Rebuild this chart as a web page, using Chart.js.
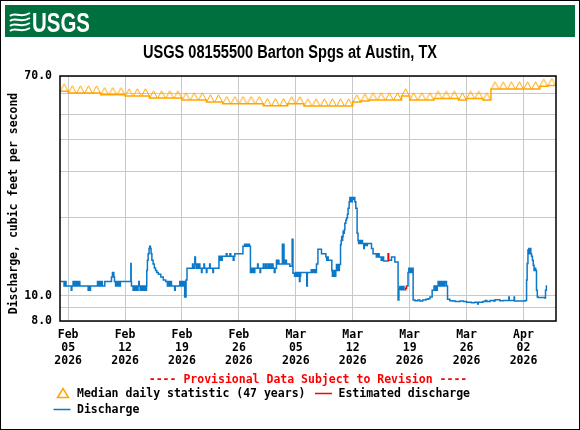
<!DOCTYPE html>
<html>
<head>
<meta charset="utf-8">
<script src="https://cdn.jsdelivr.net/npm/chart.js@4.4.1/dist/chart.umd.min.js"></script>
<style>
  html, body { margin: 0; padding: 0; background: #fff; }
  #wrap { width: 580px; height: 430px; }
</style>
</head>
<body>
<div id="wrap"><canvas id="chart" width="580" height="430"></canvas></div>
<script>
// x axis is in days counted from Feb 04 2026 00:00
var xTickDays  = [1, 8, 15, 22, 29, 36, 43, 50, 57];
var xTickMonth = ['Feb', 'Feb', 'Feb', 'Feb', 'Mar', 'Mar', 'Mar', 'Mar', 'Apr'];
var xTickDate  = ['05', '12', '19', '26', '05', '12', '19', '26', '02'];
var xTickYear  = '2026';
var yTicks     = [8, 9, 10, 20, 30, 40, 50, 60, 70];
var yLabelled  = [8, 10, 70];

// median daily statistic (47 years), one value per day from Feb 04
var medianDaily = [
  61.2, 60.2, 60.2, 60.2, 60.2, 59.3, 59.3, 59.3, 58.7, 58.7,
  58.7, 57.6, 57.6, 57.6, 57.6, 56.6, 56.6, 56.6, 55.6, 55.6,
  54.8, 54.8, 54.8, 54.8, 54.8, 53.8, 53.8, 53.8, 54.7, 54.7,
  53.7, 53.7, 53.7, 53.7, 53.7, 53.7, 55.6, 56.1, 56.6, 56.6,
  56.6, 56.6, 58.7, 56.6, 56.6, 56.6, 57.4, 57.4, 57.4, 56.6,
  57.4, 57.4, 56.6, 62.4, 62.4, 62.4, 62.4, 62.4, 62.4, 63.9,
  64.3
];

// discharge, [day, cfs]
var discharge = [
  [0.1, 11.35], [0.5, 10.9], [0.68, 11.35], [0.74, 10.9], [1.38, 10.5], [1.46, 10.9],
  [1.61, 11.35], [1.73, 10.9], [1.85, 11.35], [1.97, 10.9], [2.09, 11.35], [2.21, 10.9], [2.33, 11.35], [2.44, 10.9],
  [3.46, 10.5], [3.58, 10.9], [3.66, 10.5], [3.75, 10.9],
  [4.61, 11.35], [4.73, 10.9], [4.85, 11.35], [4.97, 10.9], [5.09, 11.35], [5.21, 10.9], [5.51, 11.35],
  [6.33, 11.8], [6.45, 12.3], [6.62, 11.8], [6.7, 11.35],
  [6.83, 10.9], [6.95, 11.35], [7.07, 10.9], [7.19, 11.35], [7.31, 10.9], [7.43, 11.35],
  [8.71, 13.3], [8.75, 11.35], [8.79, 10.9],
  [8.99, 10.5], [9.11, 10.9], [9.23, 10.5], [9.35, 10.9], [9.47, 10.5], [9.6, 10.9], [9.69, 11.35], [9.75, 10.9],
  [9.85, 10.5], [9.97, 10.9], [10.09, 10.5], [10.21, 10.9], [10.33, 10.5], [10.45, 10.9], [10.57, 10.5], [10.64, 10.9],
  [10.67, 12.5], [10.75, 13.7], [10.84, 14.5], [10.95, 15.2], [11.03, 15.5], [11.12, 15.2], [11.2, 14.5],
  [11.3, 13.7], [11.45, 13.25], [11.6, 12.8], [11.75, 12.5], [11.9, 12.3], [12.1, 12.1], [12.4, 11.8],
  [12.7, 11.5], [13.0, 11.35],
  [13.2, 10.9], [13.32, 11.35], [13.44, 10.9], [13.56, 11.35], [13.71, 10.9], [14.1, 10.5], [14.18, 10.9],
  [14.73, 11.35], [14.85, 10.9], [14.97, 11.35], [15.09, 10.9], [15.2, 11.35],
  [15.33, 9.9], [15.5, 11.5], [15.62, 12.76],
  [16.3, 13.25], [16.38, 12.76], [16.58, 14.1], [16.66, 13.25],
  [16.8, 12.76], [16.9, 13.25], [17.0, 12.76], [17.1, 13.25], [17.2, 12.76],
  [17.4, 12.3], [17.47, 12.76], [17.7, 13.25], [17.77, 12.76], [18.0, 12.3], [18.07, 12.76],
  [18.4, 13.25], [18.47, 12.76], [18.8, 12.3], [18.87, 12.76],
  [19.55, 14.2], [19.65, 13.7], [19.75, 14.2], [19.85, 13.7], [19.95, 14.2],
  [20.45, 14.5], [20.55, 14.2], [20.9, 14.5], [21.0, 14.2], [21.3, 13.7], [21.4, 14.2], [21.5, 14.5],
  [22.5, 15.5], [22.7, 15.8], [22.8, 15.5], [22.95, 15.8], [23.05, 15.5], [23.2, 15.8], [23.3, 15.5],
  [23.42, 12.3], [23.5, 12.76], [23.6, 12.3], [23.72, 12.76], [23.84, 12.3], [23.96, 12.76],
  [24.3, 13.25], [24.37, 12.76], [24.6, 12.3], [24.67, 12.76],
  [25.0, 13.25], [25.1, 12.76], [25.3, 13.25], [25.4, 12.76], [25.6, 13.25], [25.7, 12.76],
  [25.85, 13.25], [25.95, 12.76], [26.1, 13.25], [26.2, 12.76], [26.35, 12.3], [26.45, 12.76],
  [26.62, 13.7], [26.72, 13.25], [26.82, 13.7], [26.92, 13.25],
  [27.35, 15.8], [27.4, 13.25], [27.5, 15.8], [27.55, 13.25], [27.7, 13.7], [27.85, 13.25],
  [28.26, 13.0], [28.55, 16.5], [28.65, 12.2],
  [28.85, 11.9], [28.95, 12.3], [29.05, 11.9], [29.15, 12.3], [29.25, 11.9], [29.35, 12.3],
  [29.45, 11.35], [29.52, 11.9], [29.6, 12.3],
  [30.35, 10.9], [30.42, 12.3],
  [30.9, 12.6], [31.0, 12.3], [31.1, 12.6], [31.2, 12.3], [31.3, 12.6], [31.4, 12.3],
  [31.54, 13.25], [31.72, 15.1], [32.16, 14.5], [32.7, 14.1], [32.8, 13.7], [32.9, 14.1], [32.98, 13.7],
  [33.43, 12.5], [33.5, 11.9], [33.58, 12.5], [33.66, 11.9], [33.74, 12.5], [33.82, 11.9], [33.92, 12.5],
  [34.0, 13.2], [34.1, 12.5], [34.2, 13.2], [34.28, 12.5], [34.36, 13.2],
  [34.5, 15.7], [34.58, 16.3], [34.64, 16.9], [34.7, 16.3], [34.76, 16.9], [34.82, 17.7], [34.9, 17.4],
  [34.96, 17.9], [35.03, 19.0], [35.15, 19.5], [35.24, 19.9], [35.35, 20.6], [35.43, 21.7], [35.56, 23.0],
  [35.65, 23.9], [35.72, 23.0], [35.8, 23.9], [35.88, 23.0], [35.96, 23.9], [36.05, 23.5], [36.15, 23.9],
  [36.26, 23.0], [36.38, 21.7], [36.54, 17.4],
  [36.65, 16.3], [36.72, 15.9], [36.79, 16.3], [36.86, 15.9], [36.94, 16.3], [37.0, 15.9], [37.1, 16.3], [37.2, 15.9],
  [37.36, 15.2], [37.42, 15.9], [37.5, 15.6], [37.6, 15.9], [37.7, 15.6], [37.8, 15.9],
  [38.31, 15.2], [38.5, 14.5], [38.9, 14.1], [38.98, 14.5], [39.06, 14.1], [39.14, 14.5], [39.25, 14.1],
  [39.5, 13.7], [39.58, 14.1], [39.66, 13.7], [39.74, 14.1], [39.8, 13.6],
  [40.3, 13.6], [40.32, null], [40.47, 13.7],
  [40.77, 14.1], [41.18, 13.5], [41.58, 9.64], [41.68, 10.6],
  [41.79, 10.85], [41.9, 10.55], [42.0, 10.85], [42.1, 10.55], [42.2, 10.85], [42.3, 10.55], [42.4, 10.55],
  [42.45, null], [42.67, 10.9],
  [42.8, 12.3], [42.9, 12.76], [43.0, 12.3], [43.1, 12.76], [43.2, 12.3], [43.3, 12.76],
  [43.43, 9.64], [43.66, 9.58], [44.0, 9.64], [44.25, 9.55], [44.6, 9.64], [45.0, 9.7], [45.27, 9.75], [45.5, 9.9],
  [45.77, 10.5], [46.0, 10.9], [46.1, 10.5], [46.2, 10.9], [46.3, 10.5], [46.4, 10.9],
  [46.5, 11.35], [46.6, 10.9], [46.7, 11.35], [46.8, 10.9], [46.9, 11.35], [47.0, 10.9], [47.1, 11.35],
  [47.2, 10.9], [47.33, 11.35], [47.53, 10.9],
  [47.66, 9.7], [47.94, 9.58], [48.3, 9.55], [48.6, 9.5], [49.2, 9.55], [49.6, 9.5], [50.0, 9.45],
  [50.6, 9.4], [51.0, 9.45], [51.35, 9.3], [51.45, 9.45], [52.0, 9.5], [52.3, 9.6], [52.5, 9.5],
  [52.9, 9.6], [53.3, 9.55], [53.5, 9.65], [54.1, 9.58], [54.5, 9.6], [55.1, 9.6], [55.2, 9.9],
  [55.25, 9.6], [55.85, 9.9], [55.9, 9.55], [56.5, 9.55], [57.2, 9.6],
  [57.38, 11.5], [57.45, 13.3], [57.55, 15.0], [57.66, 15.2], [57.72, 14.5], [57.8, 15.2], [57.9, 14.5],
  [57.99, 14.2], [58.1, 13.7], [58.2, 13.1], [58.3, 12.5], [58.4, 12.76], [58.5, 12.5],
  [58.6, 10.5], [58.7, 9.9], [58.8, 9.85], [59.6, 9.8], [59.71, 10.5], [59.82, 10.9], [59.9, 10.9]
];

// estimated discharge pieces (red)
var estimated = [
  [40.3, 13.6], [40.35, 14.5], [40.42, 13.7], [40.47, 13.7],
  [41.0, null],
  [42.4, 10.55], [42.5, 10.7], [42.61, 10.9], [42.67, 10.9]
];

var MONO = "'DejaVu Sans Mono', monospace";
var ORANGE = '#ffa500';
var BLUE = '#0b78c8';

function toPts(arr) {
  return arr.map(function (p) { return { x: p[0], y: p[1] }; });
}

// squeeze text horizontally to a given width (narrow face look)
function narrowText(ctx, text, x, y, width, align) {
  var w = ctx.measureText(text).width;
  var sx = width / w;
  ctx.save();
  ctx.translate(x, y);
  ctx.scale(sx, 1);
  ctx.textAlign = align;
  ctx.fillText(text, 0, 0);
  ctx.restore();
}

// median as a daily step line, triangles at noon
var medianLine = medianDaily.map(function (v, d) { return { x: d, y: v }; });
medianLine.push({ x: medianDaily.length, y: medianDaily[medianDaily.length - 1] });
var medianMarks = medianDaily.map(function (v, d) { return { x: d + 0.5, y: v }; });

// triangle sits on the point (base at centre of the image)
var tri = document.createElement('canvas');
tri.width = 9; tri.height = 16;
(function () {
  var c = tri.getContext('2d');
  c.strokeStyle = ORANGE;
  c.lineWidth = 1;
  c.beginPath();
  c.moveTo(0.8, 7.8);
  c.lineTo(4.5, 0.8);
  c.lineTo(8.2, 7.8);
  c.stroke();
})();

var decor = {
  id: 'decor',
  beforeDraw: function (chart) {
    var ctx = chart.ctx;
    ctx.save();
    ctx.fillStyle = '#fff';
    ctx.fillRect(0, 0, chart.width, chart.height);
    // banner
    ctx.fillStyle = '#00703f';
    ctx.fillRect(5, 5, 570, 32);
    // wave mark
    ctx.strokeStyle = '#fff';
    ctx.lineWidth = 2;
    for (var i = 0; i < 4; i++) {
      var y0 = 14 + i * 5;
      ctx.beginPath();
      ctx.moveTo(10, y0 + 2);
      ctx.bezierCurveTo(15, y0 - 3, 20, y0 + 5, 30, y0 - 1);
      ctx.stroke();
    }
    ctx.fillStyle = '#fff';
    ctx.font = "bold 28px 'Liberation Sans', Arial, sans-serif";
    ctx.textBaseline = 'alphabetic';
    narrowText(ctx, 'USGS', 32, 32, 58, 'left');
    // title
    ctx.fillStyle = '#000';
    ctx.font = "bold 17.5px 'Liberation Sans', Arial, sans-serif";
    ctx.textBaseline = 'middle';
    narrowText(ctx, 'USGS 08155500 Barton Spgs at Austin, TX', 290, 53, 294, 'center');
    ctx.restore();
  },
  afterDraw: function (chart) {
    var ctx = chart.ctx, a = chart.chartArea;
    ctx.save();
    // plot frame and outer frame
    ctx.strokeStyle = '#000';
    ctx.lineWidth = 1.5;
    ctx.strokeRect(a.left, a.top, a.right - a.left, a.bottom - a.top);
    ctx.lineWidth = 1;
    ctx.strokeRect(0.5, 0.5, chart.width - 1, chart.height - 1);

    // y axis title
    ctx.font = 'bold 11.5px ' + MONO;
    ctx.fillStyle = '#000';
    ctx.textAlign = 'center';
    ctx.textBaseline = 'middle';
    ctx.save();
    ctx.translate(14, (a.top + a.bottom) / 2 + 5);
    ctx.rotate(-Math.PI / 2);
    ctx.fillText('Discharge, cubic feet per second', 0, 0);
    ctx.restore();

    // provisional note
    ctx.fillStyle = '#ff0000';
    ctx.fillText('---- Provisional Data Subject to Revision ----', (a.left + a.right) / 2, 380);

    // legend
    ctx.textAlign = 'left';
    ctx.fillStyle = '#000';
    ctx.strokeStyle = ORANGE;
    ctx.lineWidth = 1.5;
    ctx.beginPath();
    ctx.moveTo(57.5, 397.5);
    ctx.lineTo(63, 388.5);
    ctx.lineTo(68.5, 397.5);
    ctx.closePath();
    ctx.stroke();
    ctx.fillText('Median daily statistic (47 years)', 77, 394);
    ctx.strokeStyle = '#ff0000';
    ctx.beginPath();
    ctx.moveTo(315, 393.5);
    ctx.lineTo(332, 393.5);
    ctx.stroke();
    ctx.fillText('Estimated discharge', 338.5, 394);
    ctx.strokeStyle = BLUE;
    ctx.beginPath();
    ctx.moveTo(53.5, 409.5);
    ctx.lineTo(70.5, 409.5);
    ctx.stroke();
    ctx.fillText('Discharge', 77, 410);
    ctx.restore();
  }
};

new Chart(document.getElementById('chart').getContext('2d'), {
  type: 'line',
  data: {
    datasets: [
      {
        label: 'Estimated discharge',
        data: toPts(estimated),
        borderColor: '#ff0000',
        borderWidth: 1.5,
        stepped: true,
        pointRadius: 0,
        spanGaps: false
      },
      {
        label: 'Discharge',
        data: toPts(discharge),
        borderColor: BLUE,
        borderWidth: 1.5,
        stepped: true,
        pointRadius: 0,
        spanGaps: false
      },
      {
        label: 'Median marks',
        data: medianMarks,
        showLine: false,
        pointStyle: tri,
        pointRadius: 4,
        borderColor: ORANGE
      },
      {
        label: 'Median daily statistic (47 years)',
        data: medianLine,
        borderColor: ORANGE,
        borderWidth: 1.5,
        stepped: true,
        pointRadius: 0
      }
    ]
  },
  options: {
    responsive: false,
    animation: false,
    layout: { padding: { left: 0, right: 24, top: 76, bottom: 0 } },
    plugins: { legend: { display: false }, tooltip: { enabled: false } },
    scales: {
      x: {
        type: 'linear',
        min: 0,
        max: 61,
        afterBuildTicks: function (axis) {
          axis.ticks = xTickDays.map(function (d) { return { value: d }; });
        },
        afterFit: function (s) { s.height = 109; },
        grid: { color: '#c8c8c8', lineWidth: 1, drawTicks: false },
        border: { display: false },
        ticks: {
          autoSkip: false,
          maxRotation: 0,
          padding: 7,
          color: '#000',
          font: { family: MONO, size: 11.5, weight: 'bold', lineHeight: 1.16 },
          callback: function (value) {
            var i = xTickDays.indexOf(value);
            return i < 0 ? '' : [xTickMonth[i], xTickDate[i], xTickYear];
          }
        }
      },
      y: {
        type: 'logarithmic',
        min: 8,
        max: 70,
        afterBuildTicks: function (axis) {
          axis.ticks = yTicks.map(function (v) { return { value: v }; });
        },
        afterFit: function (s) { s.width = 60; },
        grid: { color: '#c8c8c8', lineWidth: 1, drawTicks: false },
        border: { display: false },
        ticks: {
          padding: 8,
          color: '#000',
          font: { family: MONO, size: 11.5, weight: 'bold' },
          callback: function (value) {
            return yLabelled.indexOf(value) >= 0 ? value.toFixed(1) : '';
          }
        }
      }
    }
  },
  plugins: [decor]
});
</script>
</body>
</html>
